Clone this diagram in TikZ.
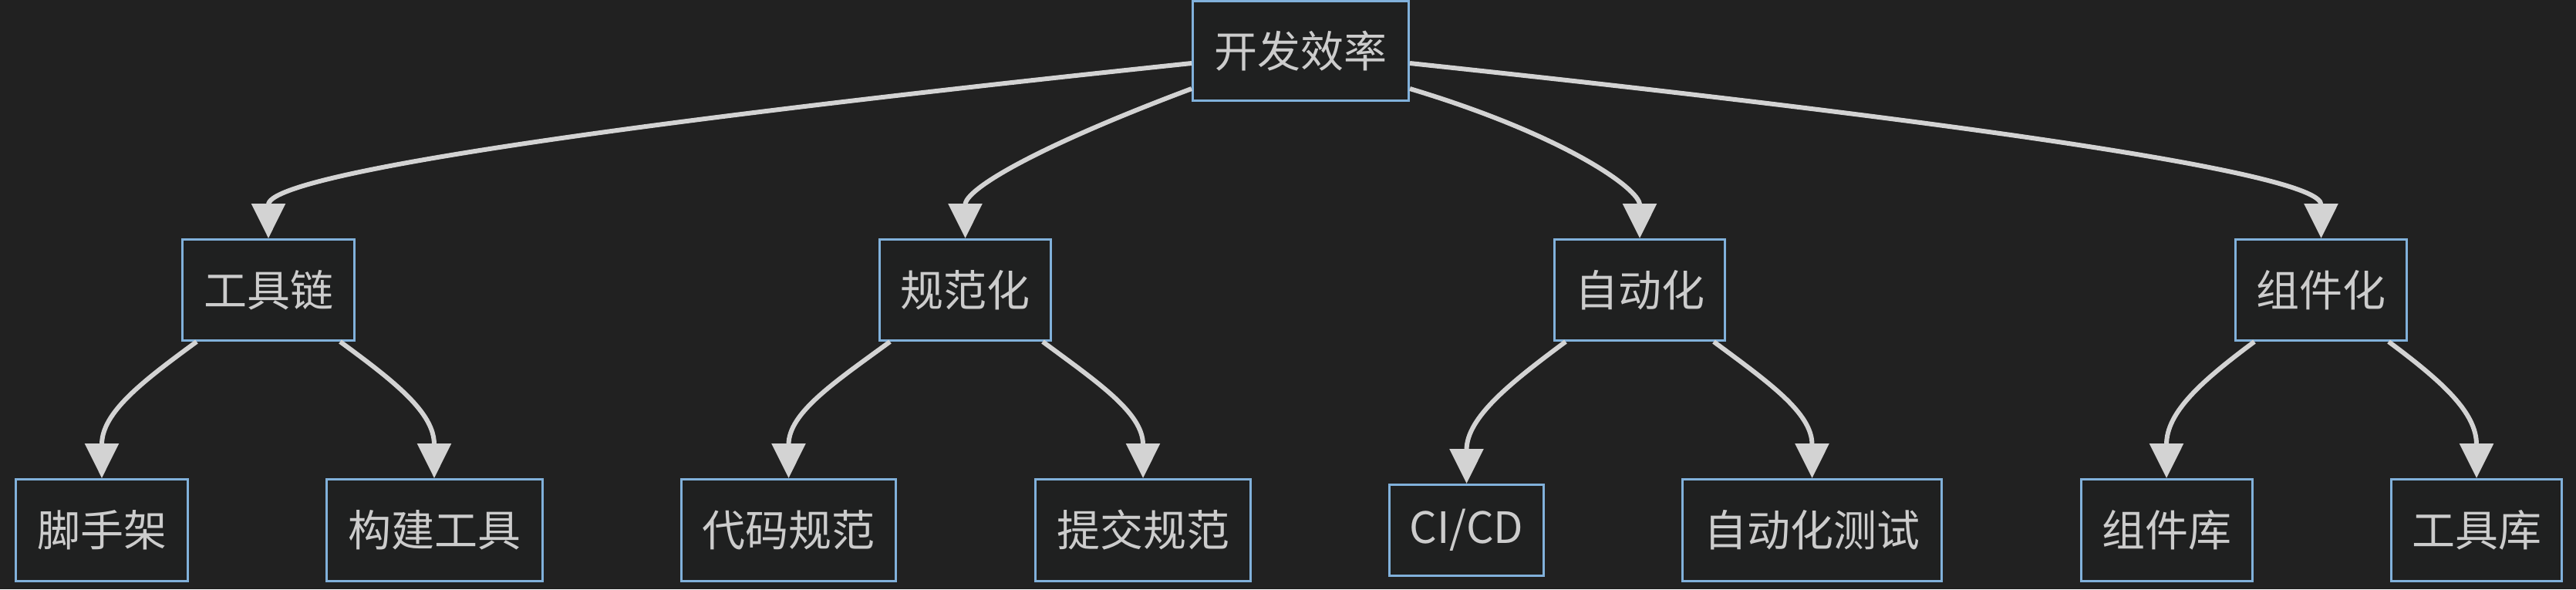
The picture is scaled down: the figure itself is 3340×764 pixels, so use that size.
\documentclass[tikz,border=0pt]{standalone}
\usepackage{fontspec}
\setmainfont{Noto Sans CJK SC}
\usetikzlibrary{arrows.meta,calc}
\definecolor{bgc}{HTML}{212121}
\definecolor{boxfill}{HTML}{1F2020}
\definecolor{boxline}{HTML}{81B1DB}
\definecolor{edgec}{HTML}{D3D3D3}
\definecolor{txtc}{HTML}{CCCCCC}
\begin{document}
\begin{tikzpicture}[x=1pt,y=-1pt,
  box/.style={draw=boxline, fill=boxfill, line width=3pt, text=txtc, inner sep=0pt,
    font=\fontsize{56}{60}\selectfont, minimum height=131pt},
  leaf/.style={box, minimum height=132pt},
  edge/.style={draw=edgec, line width=6pt, -{Triangle[length=45pt,width=43pt]}}]
\fill[bgc] (0,0) rectangle (3340,764);
\useasboundingbox (0,0) rectangle (3340,764);
% root
\node[box, minimum width=280pt, minimum height=129pt] (root) at (1686.5,66) {开发效率};
% level 2
\node[box, minimum width=223pt] (gj) at (348,376) {工具链};
\node[box, minimum width=222pt] (gf) at (1251.5,376) {规范化};
\node[box, minimum width=221pt] (zd) at (2126,376) {自动化};
\node[box, minimum width=222pt] (zj) at (3009.5,376) {组件化};
% level 3
\node[leaf, minimum width=223pt] (sj) at (132,687.5) {脚手架};
\node[leaf, minimum width=280pt] (gt) at (563,687.5) {构建工具};
\node[leaf, minimum width=278pt] (dm) at (1022.5,687.5) {代码规范};
\node[leaf, minimum width=279pt] (tj) at (1482,687.5) {提交规范};
\node[leaf, minimum width=200pt, minimum height=118pt] (ci) at (1901.5,687.5) {CI/CD};
\node[leaf, minimum width=336pt] (zt) at (2349.5,687.5) {自动化测试};
\node[leaf, minimum width=222pt] (zk) at (2809,687.5) {组件库};
\node[leaf, minimum width=221pt] (gk) at (3211,687.5) {工具库};
% root edges
\draw[edge] ($(root.west)+(0,16)$) .. controls (441,197.5) and (348,247) .. (gj.north);
\draw[edge] ($(root.west)+(0,49)$) .. controls (1345,190) and (1251.5,245) .. (gf.north);
\draw[edge] ($(root.east)+(0,49)$) .. controls (2028,175) and (2126,245) .. (zd.north);
\draw[edge] ($(root.east)+(0,16)$) .. controls (2920,197.5) and (3009.5,247) .. (zj.north);
% child edges
\draw[edge] ($(gj.south west)+(20,0)$) .. controls (184,495) and (132,535) .. (sj.north);
\draw[edge] ($(gj.south east)+(-20,0)$) .. controls (512,495) and (563,535) .. (gt.north);
\draw[edge] ($(gf.south west)+(15,0)$) .. controls (1083,495) and (1022.5,535) .. (dm.north);
\draw[edge] ($(gf.south east)+(-12,0)$) .. controls (1422,495) and (1482,535) .. (tj.north);
\draw[edge] ($(zd.south west)+(16,0)$) .. controls (1960,495) and (1901.5,541) .. (ci.north);
\draw[edge] ($(zd.south east)+(-16,0)$) .. controls (2292,495) and (2349.5,535) .. (zt.north);
\draw[edge] ($(zj.south west)+(26,0)$) .. controls (2853,495) and (2809,535) .. (zk.north);
\draw[edge] ($(zj.south east)+(-25,0)$) .. controls (3167,495) and (3211,535) .. (gk.north);
\end{tikzpicture}
\end{document}
